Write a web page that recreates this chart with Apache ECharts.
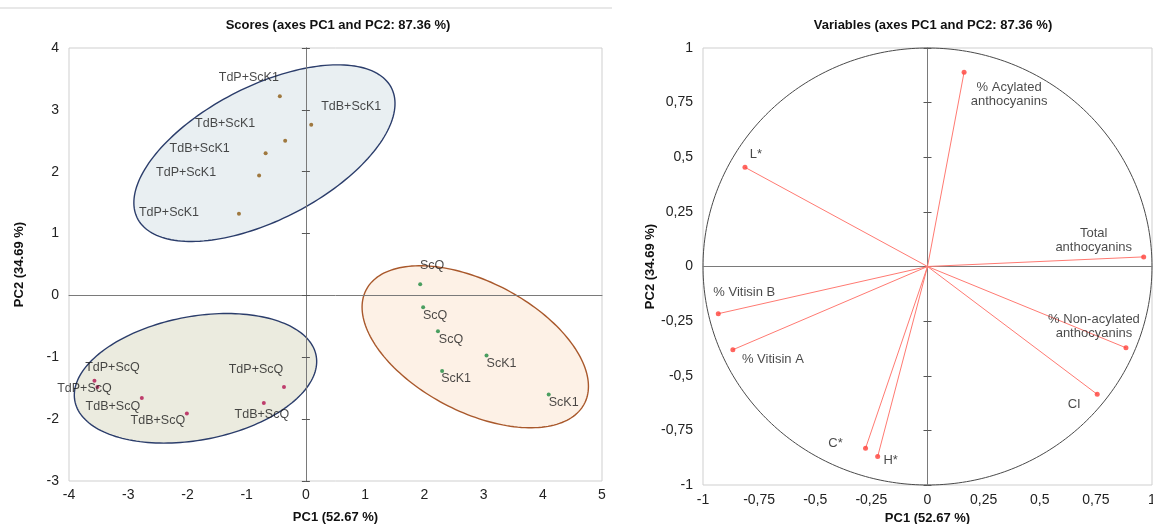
<!DOCTYPE html>
<html><head><meta charset="utf-8">
<script src="https://cdn.jsdelivr.net/npm/echarts@6/dist/echarts.min.js"></script>
<style>html,body{margin:0;padding:0;background:#fff}#c{width:1153px;height:524px}</style>
</head><body><div id="c"></div>
<script>
const FONT = "'Liberation Sans', Arial, Helvetica, sans-serif";

// ---------- Scores plot (PC1 / PC2) ----------
const scK1Names = ['TdP+ScK1', 'TdB+ScK1', 'TdB+ScK1', 'TdB+ScK1', 'TdP+ScK1', 'TdP+ScK1'];
const scK1PC1 = [-0.44, 0.09, -0.35, -0.68, -0.79, -1.13];
const scK1PC2 = [3.22, 2.76, 2.50, 2.30, 1.94, 1.32];

const scQNames = ['TdP+ScQ', 'TdP+ScQ', 'TdB+ScQ', 'TdB+ScQ', 'TdP+ScQ', 'TdB+ScQ'];
const scQPC1 = [-3.57, -3.52, -2.77, -2.01, -0.37, -0.71];
const scQPC2 = [-1.38, -1.48, -1.66, -1.91, -1.48, -1.74];

const scNames = ['ScQ', 'ScQ', 'ScQ', 'ScK1', 'ScK1', 'ScK1'];
const scPC1 = [1.93, 1.98, 2.23, 3.05, 2.30, 4.10];
const scPC2 = [0.18, -0.19, -0.58, -0.97, -1.22, -1.60];

// group ellipses: centre PC1, centre PC2, semi-axis a, semi-axis b, rotation (deg)
const ellipseCX = [-0.70, -1.864, 2.86];
const ellipseCY = [2.30, -1.34, -0.83];
const ellipseA = [2.39, 2.07, 2.06];
const ellipseB = [1.09, 1.00, 1.06];
const ellipseAngle = [25.7, 9.9, -25.8];

const scoreXTicks = { min: -4, max: 5, interval: 1 };
const scoreYTicks = { min: -3, max: 4, interval: 1 };

// ---------- Variables plot (correlation circle) ----------
const varNames = ['L*', '% Acylated\nanthocyanins', 'Total\nanthocyanins', '% Non-acylated\nanthocyanins',
  'CI', '% Vitisin B', '% Vitisin A', 'C*', 'H*'];
const varPC1 = [-0.813, 0.163, 0.963, 0.884, 0.756, -0.932, -0.867, -0.276, -0.222];
const varPC2 = [0.454, 0.889, 0.044, -0.372, -0.585, -0.216, -0.381, -0.832, -0.870];
const varTicks = { min: -1, max: 1, interval: 0.25 };

// ---------- label placement (pixel offsets, style only) ----------
const scK1LabelOffsets = [[-31, -19], [40, -18], [-60, -17], [-66, -5], [-73, -3], [-70, -1]];
const scQLabelOffsets = [[18, -13], [-13, 2], [-29, 8], [-29, 7], [-28, -17], [-2, 11]];
const scLabelOffsets = [[12, -19], [12, 8], [13, 8], [15, 8], [14, 8], [15, 8]];
const varLabelOffsets = [[11, -13], [45, 22], [-50, -16], [-32, -21], [-23, 10], [26, -21], [40, 10], [-30, -5], [13, 4]];

const ellipseFill = ['#e9eff2', '#ebebdf', '#fdf1e6'];
const ellipseStroke = ['#2b3d6b', '#2b3d6b', '#a9582b'];

function build(names, xs, ys, offs, extraLabel) {
  return names.map((n, i) => ({
    value: [xs[i], ys[i]], name: n,
    label: Object.assign({ offset: offs[i] }, extraLabel || {})
  }));
}

const commaFmt = v => v === 0 ? '0' : String(v).replace('.', ',');
const tickLabel = { color: '#222', fontFamily: FONT, fontSize: 14 };
const nameStyle = { color: '#111', fontFamily: FONT, fontSize: 13, fontWeight: 'bold' };
const labelBase = { show: true, position: 'inside', align: 'center', verticalAlign: 'middle',
  color: '#1a1a1a', fontFamily: FONT, formatter: p => p.name };

const chart = echarts.init(document.getElementById('c'), null, { renderer: 'canvas' });

function frameX(grid, t, extra) {
  return Object.assign({ type: 'value', gridIndex: grid, min: t.min, max: t.max, interval: t.interval,
    position: 'bottom', axisLine: { show: false, onZero: false }, axisTick: { show: false },
    splitLine: { show: false }, axisLabel: tickLabel, nameLocation: 'middle', nameTextStyle: nameStyle }, extra);
}
function frameY(grid, t, extra) {
  return Object.assign({ type: 'value', gridIndex: grid, min: t.min, max: t.max, interval: t.interval,
    position: 'left', axisLine: { show: false, onZero: false }, axisTick: { show: false },
    splitLine: { show: false }, axisLabel: tickLabel, nameLocation: 'middle', nameTextStyle: nameStyle }, extra);
}
function zeroX(grid, t, yIdx) {
  return { type: 'value', gridIndex: grid, min: t.min, max: t.max, interval: t.interval, position: 'bottom', z: 5,
    axisLine: { show: true, onZero: true, onZeroAxisIndex: yIdx, lineStyle: { color: '#7a7a7a', width: 1 } },
    axisTick: { show: false }, axisLabel: { show: false }, splitLine: { show: false } };
}
function zeroY(grid, t, xIdx, pos) {
  return { type: 'value', gridIndex: grid, min: t.min, max: t.max, interval: t.interval, position: pos, z: 5,
    axisLine: { show: true, onZero: true, onZeroAxisIndex: xIdx, lineStyle: { color: '#7a7a7a', width: 1 } },
    axisTick: { show: true, inside: false, length: 4, lineStyle: { color: '#555', width: 1 } },
    axisLabel: { show: false }, splitLine: { show: false } };
}

const option = {
  animation: false,
  backgroundColor: '#fff',
  graphic: [{ type: 'rect', shape: { x: 0, y: 7, width: 612, height: 2 }, style: { fill: '#e8e8e8' }, silent: true }],
  title: [
    { text: 'Scores (axes PC1 and PC2: 87.36 %)', left: 333, top: 14, textAlign: 'center',
      textStyle: { fontFamily: FONT, fontSize: 13, fontWeight: 'bold', color: '#111' } },
    { text: 'Variables (axes PC1 and PC2: 87.36 %)', left: 928, top: 14, textAlign: 'center',
      textStyle: { fontFamily: FONT, fontSize: 13, fontWeight: 'bold', color: '#111' } }
  ],
  grid: [
    { left: 69, top: 48, width: 533, height: 433, show: true, borderColor: '#cfcfcf', borderWidth: 1,
      backgroundColor: 'transparent', containLabel: false, outerBoundsMode: 'none' },
    { left: 703, top: 48, width: 449, height: 437, show: true, borderColor: '#cfcfcf', borderWidth: 1,
      backgroundColor: 'transparent', containLabel: false, outerBoundsMode: 'none' }
  ],
  xAxis: [
    frameX(0, scoreXTicks, { name: 'PC1 (52.67 %)', nameGap: 30, axisLabel: Object.assign({ margin: 7 }, tickLabel) }),
    zeroX(0, scoreXTicks, 0),
    frameX(1, varTicks, { name: 'PC1 (52.67 %)', nameGap: 20, axisLabel: Object.assign({ margin: 8, formatter: commaFmt }, tickLabel) }),
    zeroX(1, varTicks, 3)
  ],
  yAxis: [
    frameY(0, scoreYTicks, { name: 'PC2 (34.69 %)', nameGap: 43, axisLabel: Object.assign({ margin: 10 }, tickLabel) }),
    zeroY(0, scoreYTicks, 0, 'left'),
    zeroY(0, scoreYTicks, 0, 'right'),
    frameY(1, varTicks, { name: 'PC2 (34.69 %)', nameGap: 36, axisLabel: Object.assign({ margin: 10, formatter: commaFmt }, tickLabel) }),
    zeroY(1, varTicks, 2, 'left'),
    zeroY(1, varTicks, 2, 'right')
  ],
  series: [
    {
      type: 'custom', xAxisIndex: 0, yAxisIndex: 0, z: 1, silent: true,
      data: ellipseCX.map((c, i) => [c, ellipseCY[i], ellipseA[i], ellipseB[i], ellipseAngle[i]]),
      encode: { x: 0, y: 1 },
      renderItem: function (params, api) {
        const cx = api.value(0), cy = api.value(1), a = api.value(2), b = api.value(3);
        const ang = api.value(4) * Math.PI / 180;
        const pts = [];
        for (let k = 0; k < 180; k++) {
          const t = k / 180 * 2 * Math.PI;
          const ex = a * Math.cos(t), ey = b * Math.sin(t);
          pts.push(api.coord([cx + ex * Math.cos(ang) - ey * Math.sin(ang), cy + ex * Math.sin(ang) + ey * Math.cos(ang)]));
        }
        return { type: 'polygon', shape: { points: pts },
          style: { fill: ellipseFill[params.dataIndex], stroke: ellipseStroke[params.dataIndex], lineWidth: 1.4 } };
      }
    },
    { type: 'scatter', xAxisIndex: 0, yAxisIndex: 0, z: 10, symbolSize: 4,
      itemStyle: { color: '#8c5a12' }, label: Object.assign({ fontSize: 12.5 }, labelBase),
      data: build(scK1Names, scK1PC1, scK1PC2, scK1LabelOffsets) },
    { type: 'scatter', xAxisIndex: 0, yAxisIndex: 0, z: 10, symbolSize: 4,
      itemStyle: { color: '#b3124f' }, label: Object.assign({ fontSize: 12.5 }, labelBase),
      data: build(scQNames, scQPC1, scQPC2, scQLabelOffsets) },
    { type: 'scatter', xAxisIndex: 0, yAxisIndex: 0, z: 10, symbolSize: 4,
      itemStyle: { color: '#1d8a3f' }, label: Object.assign({ fontSize: 12.5 }, labelBase),
      data: build(scNames, scPC1, scPC2, scLabelOffsets) },
    {
      type: 'custom', xAxisIndex: 2, yAxisIndex: 3, z: 1, silent: true,
      data: [[0, 0, 1]], encode: { x: 0, y: 1 },
      renderItem: function (params, api) {
        const r = api.value(2), pts = [];
        for (let k = 0; k <= 360; k++) {
          const t = k / 360 * 2 * Math.PI;
          pts.push(api.coord([api.value(0) + r * Math.cos(t), api.value(1) + r * Math.sin(t)]));
        }
        return { type: 'polyline', shape: { points: pts }, style: { stroke: '#4a4a4a', lineWidth: 1, fill: null } };
      }
    },
    {
      type: 'custom', xAxisIndex: 2, yAxisIndex: 3, z: 6, silent: true,
      data: varPC1.map((x, i) => [x, varPC2[i]]), encode: { x: 0, y: 1 },
      renderItem: function (params, api) {
        const o = api.coord([0, 0]), p = api.coord([api.value(0), api.value(1)]);
        return { type: 'line', shape: { x1: o[0], y1: o[1], x2: p[0], y2: p[1] },
          style: { stroke: '#ff7a72', lineWidth: 1 } };
      }
    },
    { type: 'scatter', xAxisIndex: 2, yAxisIndex: 3, z: 10, symbolSize: 5,
      itemStyle: { color: '#ff4038' },
      label: Object.assign({ fontSize: 13, lineHeight: 14 }, labelBase),
      data: build(varNames, varPC1, varPC2, varLabelOffsets) }
  ]
};
chart.setOption(option);
</script></body></html>
